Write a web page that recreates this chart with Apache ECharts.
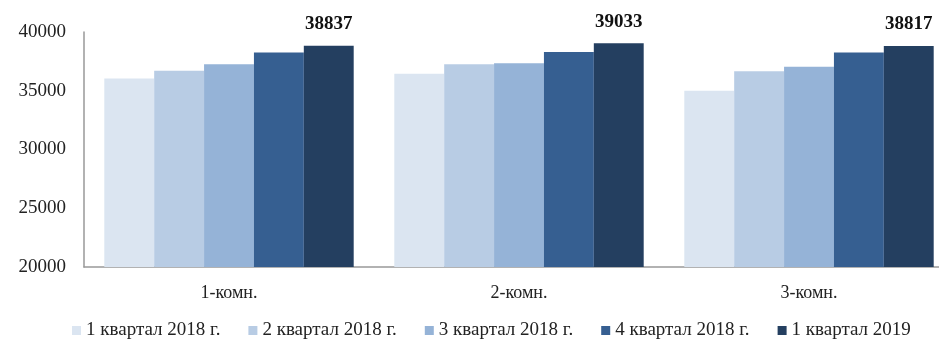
<!DOCTYPE html>
<html>
<head>
<meta charset="utf-8">
<script src="https://cdn.jsdelivr.net/npm/echarts@6/dist/echarts.min.js"></script>
<style>
  html, body { margin: 0; padding: 0; background: #fff; overflow: hidden; }
  #chart { width: 960px; height: 340px; }
</style>
</head>
<body>
<div id="chart"></div>
<script>
// категории и ряды
var categories = ['1-комн.', '2-комн.', '3-комн.'];
var seriesNames = ['1 квартал 2018 г.', '2 квартал 2018 г.', '3 квартал 2018 г.', '4 квартал 2018 г.', '1 квартал 2019'];
var q1_2018 = [36050, 36450, 35000];
var q2_2018 = [36700, 37250, 36650];
var q3_2018 = [37250, 37350, 37050];
var q4_2018 = [38250, 38300, 38250];
var q1_2019 = [38837, 39033, 38817];
var colors = ['#dbe5f1', '#b8cce4', '#95b3d7', '#365f91', '#243f60'];

function renderChart() {
    // область графика шире окна: в оригинале правый край обрезан
    var dom = document.getElementById('chart');
    var myChart = echarts.init(dom);
    var font = 'Liberation Serif';
    var allData = [q1_2018, q2_2018, q3_2018, q4_2018, q1_2019];

    var series = allData.map(function (d, i) {
        var s = {
            name: seriesNames[i],
            type: 'bar',
            barGap: '0%',
            barCategoryGap: '14%',
            itemStyle: { color: colors[i] },
            data: d
        };
        if (i === 4) {
            s.label = {
                show: true,
                position: 'top',
                distance: 12,
                fontFamily: font,
                fontWeight: 'bold',
                fontSize: 19,
                color: '#111'
            };
        }
        return s;
    });

    var option = {
        animation: false,
        textStyle: { fontFamily: font },
        grid: {
            left: 84,
            right: 6,
            top: 32,
            bottom: 73,
            containLabel: false
        },
        legend: {
            top: 321,
            left: 72,
            padding: 0,
            itemWidth: 9,
            itemHeight: 9,
            itemGap: 28,
            icon: 'rect',
            textStyle: { fontFamily: font, fontSize: 19, color: '#222' },
            data: seriesNames
        },
        xAxis: {
            type: 'category',
            data: categories,
            axisLine: { lineStyle: { color: '#999', width: 1.5 } },
            axisTick: { show: false },
            axisLabel: { fontFamily: font, fontSize: 18, color: '#222', margin: 17 }
        },
        yAxis: {
            type: 'value',
            min: 20000,
            max: 40000,
            interval: 5000,
            axisLine: { show: true, lineStyle: { color: '#999', width: 1.5 } },
            axisTick: { show: false },
            splitLine: { show: false },
            axisLabel: {
                fontFamily: font,
                fontSize: 19,
                color: '#222',
                margin: 18,
                formatter: function (v) { return String(v); }
            }
        },
        series: series
    };

    myChart.setOption(option);
}
renderChart();
</script>
</body>
</html>
